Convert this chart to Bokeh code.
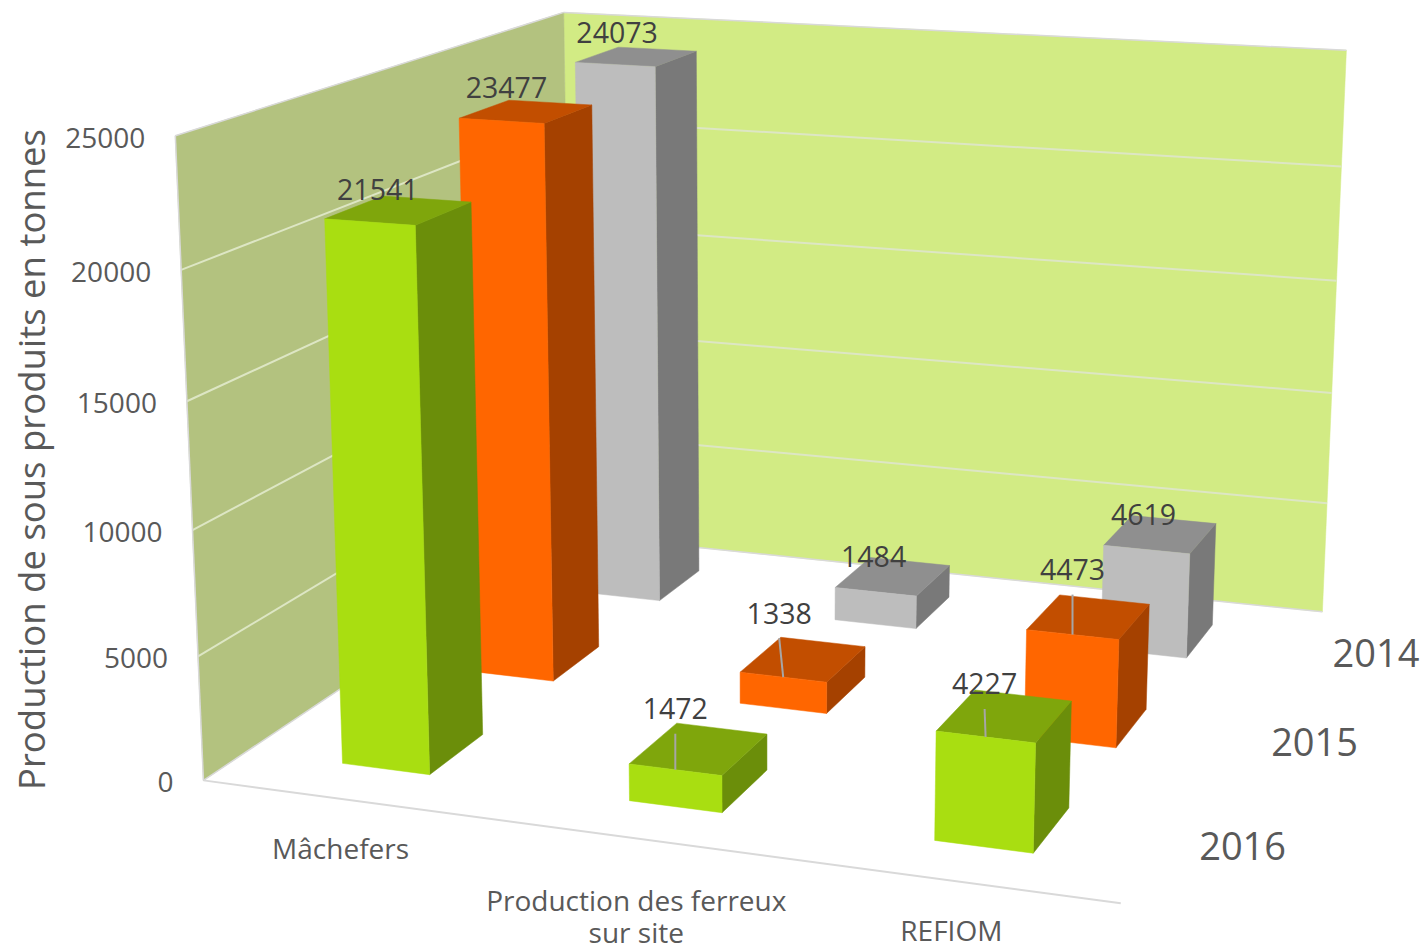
import numpy as np
from bokeh.core.properties import value
from bokeh.embed import file_html
from bokeh.models import Range1d
from bokeh.plotting import figure
from bokeh.resources import INLINE

# Chart content
categories = ["Mâchefers", "Production des ferreux\nsur site", "REFIOM"]
years = ["2016", "2015", "2014"]
values_2016 = [21541, 1472, 4227]
values_2015 = [23477, 1338, 4473]
values_2014 = [24073, 1484, 4619]
value_ticks = [0, 5000, 10000, 15000, 20000, 25000]
axis_title = "Production de sous produits en tonnes"

# front, top and side shades of each series
shades_2016 = ("#A9DE11", "#7FA60C", "#6B8E0A")
shades_2015 = ("#FF6600", "#C24E00", "#A54100")
shades_2014 = ("#BDBDBD", "#8F8F8F", "#797979")

# height of each value label above its bar's front edge, and its sideways nudge
label_gap_2016 = [33, 61, 53]
label_gap_2015 = [33, 64, 65]
label_gap_2014 = [32, 35, 35]
label_nudge_2016 = [8, 0, -1]
label_nudge_2015 = [5, -4, 0]
label_nudge_2014 = [2, -2, -3]
LEADER_MIN_GAP = 50

# drop of each category label below the front edge
category_drop = [49, 61, 49]

WALL_BACK = "#D2EB84"
WALL_LEFT = "#B3C27F"
GRID = "#DDE6C4"
EDGE = "#D9D9D9"
TEXT = "#404040"
AXIS_TEXT = "#595959"
FONT = "Open Sans"

# Camera: the box's corners (category, depth, value in thousands) and where they land
box = np.array([(0, 0, 0), (3, 0, 0), (3, 3, 0), (0, 3, 0),
                (0, 0, 25), (0, 3, 25), (3, 3, 25)], float)
view = np.array([(203, 780), (1120, 903), (1322, 611), (571, 534),
                 (175, 135), (563, 12), (1346, 50)], float)


def solve_camera(world, image):
    rows, rhs = [], []
    for (a, b, c), (u, v) in zip(world, image):
        rows.append([a, b, c, 1, 0, 0, 0, 0, -u * a, -u * b, -u * c])
        rhs.append(u)
        rows.append([0, 0, 0, 0, a, b, c, 1, -v * a, -v * b, -v * c])
        rhs.append(v)
    m = np.linalg.lstsq(np.array(rows), np.array(rhs), rcond=None)[0]
    return np.append(m, 1.0).reshape(3, 4)


CAM = solve_camera(box, view)


def project(a, b, c):
    h = CAM @ np.array([a, b, c, 1.0])
    return h[0] / h[2], h[1] / h[2]


def polygon(corners):
    pts = [project(*c) for c in corners]
    return [q[0] for q in pts], [q[1] for q in pts]


p = figure(width=1424, height=951, x_range=Range1d(0, 1424), y_range=Range1d(951, 0),
           output_backend="svg", toolbar_location=None, min_border=0,
           background_fill_color="white", border_fill_color="white")
p.axis.visible = False
p.grid.visible = False
p.outline_line_color = None


def face(corners, color):
    xs, ys = polygon(corners)
    p.patch(xs, ys, fill_color=color, line_color=color, line_width=0.5)


def segment(start, end, color, width=1.5):
    xs, ys = polygon([start, end])
    p.line(xs, ys, line_color=color, line_width=width)


def label(x, y, text, size, color=TEXT, align="center", angle=0):
    p.text([x], [y], text=[text], text_font=value(FONT), text_font_size=f"{size}px",
           text_color=color, text_align=align, text_baseline="middle", angle=angle)


# Walls and floor edge
face([(0, 3, 0), (3, 3, 0), (3, 3, 25), (0, 3, 25)], WALL_BACK)
face([(0, 0, 0), (0, 3, 0), (0, 3, 25), (0, 0, 25)], WALL_LEFT)
for tick in value_ticks[1:-1]:
    z = tick / 1000
    segment((0, 0, z), (0, 3, z), GRID, 2)
    segment((0, 3, z), (3, 3, z), GRID, 2)
segment((0, 0, 25), (0, 3, 25), EDGE)
segment((0, 3, 25), (3, 3, 25), EDGE)
segment((0, 0, 0), (0, 0, 25), EDGE)
segment((0, 3, 0), (3, 3, 0), EDGE)
segment((0, 0, 0), (0, 3, 0), EDGE)
segment((0, 0, 0), (3, 0, 0), EDGE, 2)

# Bars, from the back row forward
HALF_W = 0.155
HALF_D = 0.205
rows = [(2.5, values_2014, shades_2014, label_gap_2014, label_nudge_2014),
        (1.5, values_2015, shades_2015, label_gap_2015, label_nudge_2015),
        (0.5, values_2016, shades_2016, label_gap_2016, label_nudge_2016)]
for depth, vals, (front, top, side), _, _ in rows:
    for i, val in enumerate(vals):
        cx = i + 0.5
        h = val / 1000
        x0, x1 = cx - HALF_W, cx + HALF_W
        y0, y1 = depth - HALF_D, depth + HALF_D
        face([(x1, y0, 0), (x1, y1, 0), (x1, y1, h), (x1, y0, h)], side)
        face([(x0, y0, h), (x1, y0, h), (x1, y1, h), (x0, y1, h)], top)
        face([(x0, y0, 0), (x1, y0, 0), (x1, y0, h), (x0, y0, h)], front)

# Value labels above the bars, with a leader where the label sits far off
for depth, vals, _, gaps, nudges in rows:
    for i, (val, gap, nudge) in enumerate(zip(vals, gaps, nudges)):
        x, y = project(i + 0.5, depth - HALF_D, val / 1000)
        if gap > LEADER_MIN_GAP:
            p.line([x, x + nudge], [y, y - gap + 25], line_color="#A6A6A6", line_width=2)
        label(x + nudge, y - gap, str(val), 28.5)

# Value axis labels
for tick in value_ticks:
    x, y = project(0, 0, tick / 1000)
    label(x - 30, y + 2, str(tick), 28, color=AXIS_TEXT, align="right")

# Category labels along the front edge
for i, name in enumerate(categories):
    x, y = project(i + 0.5, 0, 0)
    for j, line in enumerate(name.split("\n")):
        label(x - 4, y + category_drop[i] + 32 * j, line, 28, color=AXIS_TEXT)

# Series labels along the right edge
for k, year in enumerate(years):
    x, y = project(3, k + 0.5, 0)
    label(x + 81, y + 2, year, 38, color=AXIS_TEXT)

label(30, 459, axis_title, 36.5, color=AXIS_TEXT, angle=np.pi / 2)

open("out.html", "w").write(file_html(p, INLINE))
